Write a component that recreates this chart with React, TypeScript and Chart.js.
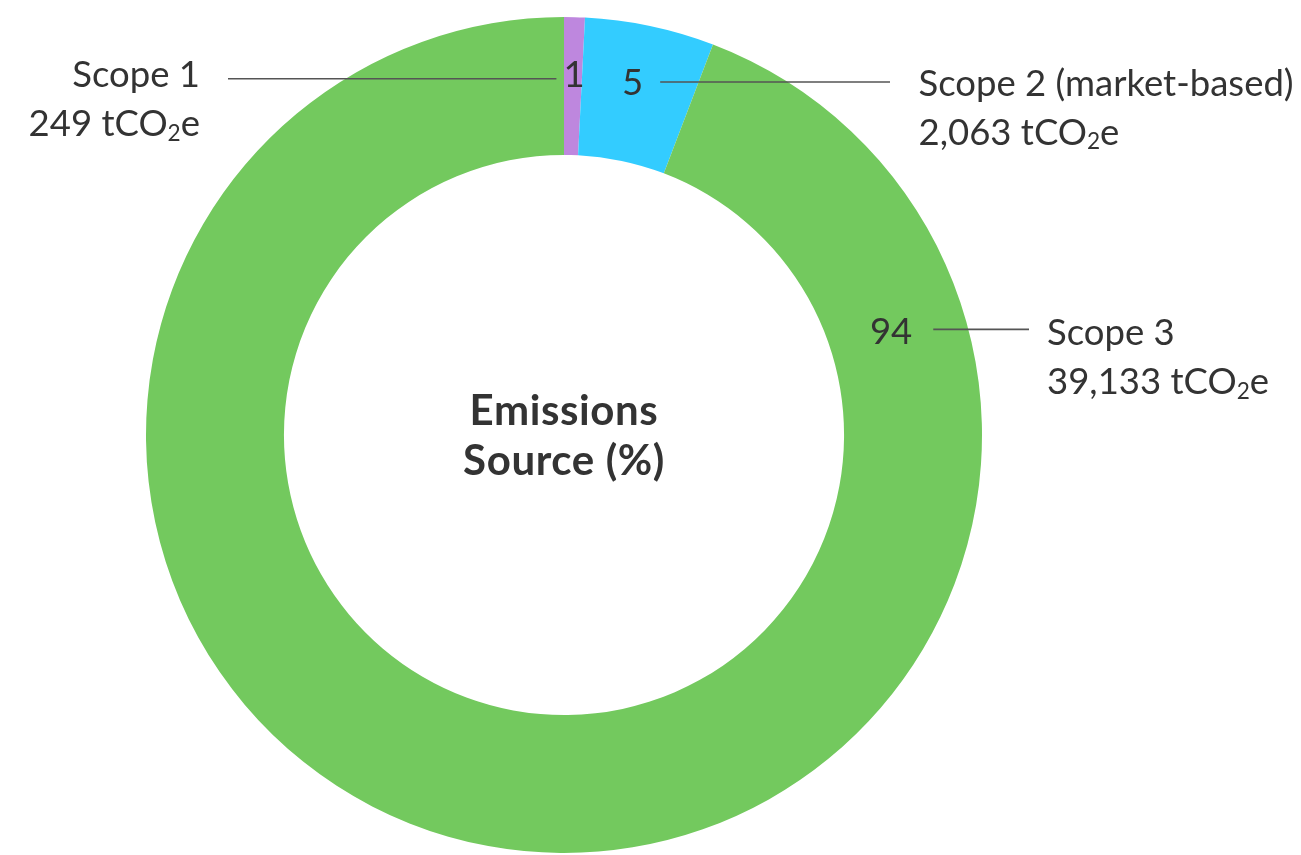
import React, { useEffect, useRef } from "react";
import { Chart, registerables } from "chart.js";

Chart.register(...registerables);

// ---- data ----
const categories = ["Scope 1", "Scope 2 (market-based)", "Scope 3"];
const sharePct = [0.8, 5.0, 94.2];
const pctLabels = ["1", "5", "94"];
const emissionLabels = ["249 tCO₂e", "2,063 tCO₂e", "39,133 tCO₂e"];
const sliceColors = ["#be87de", "#33ccff", "#73c95e"];
const centerTitle = ["Emissions", "Source (%)"];

// ---- annotation layout (label placement relative to each arc) ----
const labelLayout = [
  { t: 0.55, rf: 0.59, side: -1, lineDy: 5, gapStart: 7, lineEndX: 228, textGap: 28, baselineDy: 8.5 },
  { t: 0.45, rf: 0.58, side: 1, lineDy: 0.5, gapStart: 17, lineEndX: 890, textGap: 28.5, baselineDy: 14 },
  { t: 0.152, rf: 0.457, side: 1, lineDy: -2, gapStart: 21, lineEndX: 1029, textGap: 18, baselineDy: 16 },
];

const TEXT_COLOR = "#333333";
const LINE_COLOR = "#555555";
const FONT = "Lato, 'Noto Sans', sans-serif";
const LABEL_SIZE = 36.5;
const CENTER_SIZE = 42;
const CENTER_SPACING = "0.6px";

// draws text where "₂" is rendered as a lowered, smaller digit
function drawRich(ctx: CanvasRenderingContext2D, text: string, x: number, y: number, align: "left" | "right", size: number) {
  const parts = text.split("₂");
  const big = `${size}px ${FONT}`;
  const small = `${size * 0.62}px ${FONT}`;
  const pieces: { s: string; font: string; dy: number }[] = [];
  parts.forEach((p, i) => {
    if (i > 0) pieces.push({ s: "2", font: small, dy: size * 0.12 });
    if (p) pieces.push({ s: p, font: big, dy: 0 });
  });
  let total = 0;
  const widths = pieces.map((pc) => {
    ctx.font = pc.font;
    const w = ctx.measureText(pc.s).width;
    total += w;
    return w;
  });
  let cx = align === "right" ? x - total : x;
  ctx.textAlign = "left";
  pieces.forEach((pc, i) => {
    ctx.font = pc.font;
    ctx.fillText(pc.s, cx, y + pc.dy);
    cx += widths[i];
  });
}

const labelPlugin = {
  id: "donutLabels",
  afterDraw(chart: any) {
    const ctx = chart.ctx as CanvasRenderingContext2D;
    const meta = chart.getDatasetMeta(0);
    ctx.save();
    meta.data.forEach((el: any, i: number) => {
      const p = el.getProps(["x", "y", "innerRadius", "outerRadius", "startAngle", "endAngle"], true);
      const L = labelLayout[i];
      const a = p.startAngle + L.t * (p.endAngle - p.startAngle);
      const r = p.innerRadius + L.rf * (p.outerRadius - p.innerRadius);
      const ax = p.x + r * Math.cos(a);
      const ay = p.y + r * Math.sin(a);

      ctx.font = `${LABEL_SIZE}px ${FONT}`;
      ctx.fillStyle = TEXT_COLOR;
      ctx.textAlign = "center";
      ctx.textBaseline = "alphabetic";
      ctx.fillText(pctLabels[i], ax, ay + 13);
      const half = ctx.measureText(pctLabels[i]).width / 2;

      const ly = ay + L.lineDy;
      const x0 = ax + L.side * (half + L.gapStart);
      ctx.beginPath();
      ctx.strokeStyle = LINE_COLOR;
      ctx.lineWidth = 1.6;
      ctx.moveTo(x0, ly);
      ctx.lineTo(L.lineEndX, ly);
      ctx.stroke();

      const tx = L.lineEndX + L.side * L.textGap;
      const align = L.side < 0 ? "right" : "left";
      const b = ly + L.baselineDy;
      drawRich(ctx, categories[i], tx, b, align, LABEL_SIZE);
      drawRich(ctx, emissionLabels[i], tx, b + 49, align, LABEL_SIZE);
    });

    const first = meta.data[0];
    if (first) {
      const cx = first.x;
      const cy = first.y;
      ctx.font = `bold ${CENTER_SIZE}px ${FONT}`;
      ctx.fillStyle = TEXT_COLOR;
      ctx.textAlign = "center";
      ctx.textBaseline = "alphabetic";
      const anyCtx: any = ctx;
      if ("letterSpacing" in anyCtx) anyCtx.letterSpacing = CENTER_SPACING;
      ctx.fillText(centerTitle[0], cx, cy - 10.5);
      ctx.fillText(centerTitle[1], cx, cy + 40);
    }
    ctx.restore();
  },
};

export default function App() {
  const ref = useRef<HTMLCanvasElement | null>(null);

  useEffect(() => {
    if (!ref.current) return;
    const chart = new Chart(ref.current, {
      type: "doughnut",
      data: {
        labels: categories,
        datasets: [
          {
            data: sharePct,
            backgroundColor: sliceColors,
            borderWidth: 0,
            hoverOffset: 0,
          },
        ],
      },
      options: {
        responsive: false,
        animation: false,
        cutout: "67%",
        layout: { padding: { left: 146, right: 319, top: 17, bottom: 2 } },
        plugins: {
          legend: { display: false },
          tooltip: { enabled: false },
          title: { display: false },
        },
      },
      plugins: [labelPlugin],
    });
    const fonts: any = (document as any).fonts;
    if (fonts && fonts.load) {
      Promise.all([fonts.load(`${LABEL_SIZE}px Lato`), fonts.load(`bold ${CENTER_SIZE}px Lato`)])
        .then(() => chart.draw())
        .catch(() => {});
    }
    return () => chart.destroy();
  }, []);

  return (
    <div style={{ position: "absolute", left: 0, top: 0, width: 1301, height: 855, background: "#ffffff" }}>
      <canvas ref={ref} width={1301} height={855} style={{ display: "block" }} />
    </div>
  );
}
